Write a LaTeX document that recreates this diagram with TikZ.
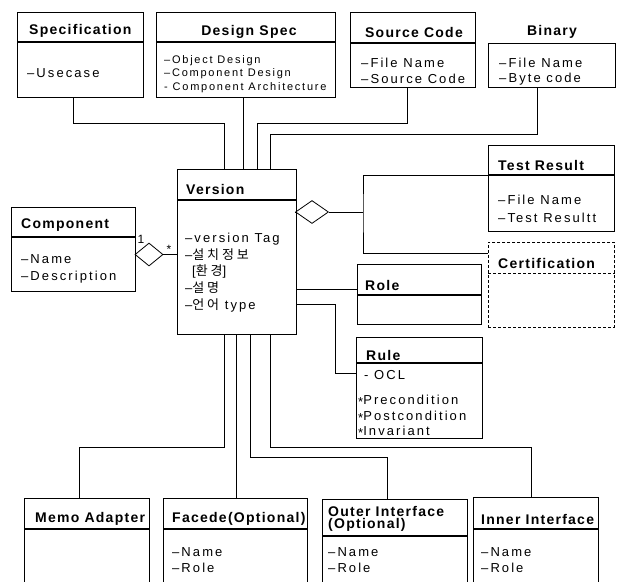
\documentclass[tikz,border=0pt]{standalone}
\usepackage{fontspec}
\setmainfont{Liberation Sans}
\newfontfamily\bodyf{Liberation Sans}[LetterSpace=16]
\newfontfamily\titlef{Liberation Sans}[LetterSpace=9]
\newfontfamily\kr{Noto Sans CJK KR}[LetterSpace=22]
\usetikzlibrary{shapes.geometric}
\tikzset{
  box/.style={draw, line width=0.8pt, inner sep=0pt, anchor=north west},
  hdr/.style={line width=1.3pt},
  conn/.style={line width=0.8pt},
  ttl/.style={font=\titlef\bfseries\fontsize{14}{16}\selectfont, inner sep=0pt, anchor=west},
  txt/.style={font=\bodyf\fontsize{13}{16}\selectfont, inner sep=0pt, anchor=west},
  stxt/.style={font=\bodyf\fontsize{11}{13}\selectfont, inner sep=0pt, anchor=west},
  agg/.style={draw, diamond, line width=0.8pt, inner sep=0pt, aspect=1},
}
\begin{document}
\begin{tikzpicture}[x=1pt,y=-1pt]
\useasboundingbox (0,0) rectangle (617,581);
\clip (0,0) rectangle (617,581);
\fill[white] (0,0) rectangle (617,581);

% ---------- top row ----------
\node[box, minimum width=126pt, minimum height=85pt] (spec) at (17,12) {};
\draw[hdr] (spec.west |- 0,42) -- (spec.east |- 0,42);
\node[ttl] (specT) at (29,31) {Specification};
\node[txt] (specA) at (27,73) {–Usecase};

\node[box, minimum width=179pt, minimum height=85pt] (design) at (156,12) {};
\draw[hdr] (design.west |- 0,42) -- (design.east |- 0,42);
\node[ttl, anchor=center] (designT) at (249,32) {Design Spec};
\node[stxt] (designA) at (164,61) {–Object Design};
\node[stxt] (designB) at (164,74) {–Component Design};
\node[stxt] (designC) at (164,88) {- Component Architecture};

\node[box, minimum width=125pt, minimum height=75pt] (source) at (350,12) {};
\draw[hdr] (source.west |- 0,43) -- (source.east |- 0,43);
\node[ttl, anchor=center] (sourceT) at (414,32) {Source Code};
\node[txt] (sourceA) at (361,63) {–File Name};
\node[txt] (sourceB) at (361,79) {–Source Code};

\node[box, minimum width=127pt, minimum height=44pt] (binary) at (488,43) {};
\node[ttl, anchor=center] (binaryT) at (552,32) {Binary};
\node[txt] (binaryA) at (499,63) {–File Name};
\node[txt] (binaryB) at (499,79) {–Byte code};

% ---------- Version ----------
\node[box, minimum width=119pt, minimum height=165pt] (version) at (177,169) {};
\draw[hdr] (version.west |- 0,200) -- (version.east |- 0,200);
\node[ttl] (versionT) at (186,189) {Version};
\node[txt] (versionA) at (185,239) {–version Tag};
\node[txt] (versionB) at (185,255) {–{\kr 설치정보}};
\node[txt] (versionC) at (192,271) {[{\kr 환경}]};
\node[txt] (versionD) at (185,288) {–{\kr 설명}};
\node[txt] (versionE) at (185,305) {–{\kr 언어} type};

% ---------- Component ----------
\node[box, minimum width=124pt, minimum height=84pt] (comp) at (11,207) {};
\draw[hdr] (comp.west |- 0,237) -- (comp.east |- 0,237);
\node[ttl] (compT) at (21,225) {Component};
\node[txt] (compA) at (21,259) {–Name};
\node[txt] (compB) at (21,277) {–Description};

% ---------- right side ----------
\node[box, minimum width=126pt, minimum height=86pt] (tr) at (488,145) {};
\draw[hdr] (tr.west |- 0,175) -- (tr.east |- 0,175);
\node[ttl] (trT) at (498,165) {Test Result};
\node[txt] (trA) at (498,200) {–File Name};
\node[txt] (trB) at (498,218) {–Test Resultt};

\node[box, dash pattern=on 3pt off 2pt, minimum width=126pt, minimum height=85pt] (cert) at (488,242) {};
\draw[line width=0.8pt, dash pattern=on 3pt off 2pt] (cert.west |- 0,273) -- (cert.east |- 0,273);
\node[ttl] (certT) at (498,263) {Certification};

\node[box, minimum width=124pt, minimum height=60pt] (role) at (357,264) {};
\draw[hdr] (role.west |- 0,295) -- (role.east |- 0,295);
\node[ttl] (roleT) at (365,285) {Role};

\node[box, minimum width=126pt, minimum height=101pt] (rule) at (356,337) {};
\draw[hdr] (rule.west |- 0,363) -- (rule.east |- 0,363);
\node[ttl] (ruleT) at (366,355) {Rule};
\node[txt] (ruleA) at (364,375) {- OCL};
\node[txt] (ruleB) at (358,401) {\raisebox{-0.35ex}{*}Precondition};
\node[txt] (ruleC) at (358,417) {\raisebox{-0.35ex}{*}Postcondition};
\node[txt] (ruleD) at (358,432) {\raisebox{-0.35ex}{*}Invariant};

% ---------- bottom row ----------
\node[box, minimum width=125pt, minimum height=100pt] (memo) at (24,498) {};
\draw[hdr] (memo.west |- 0,529) -- (memo.east |- 0,529);
\node[ttl] (memoT) at (35,519) {Memo Adapter};

\node[box, minimum width=144pt, minimum height=100pt] (facede) at (163,498) {};
\draw[hdr] (facede.west |- 0,529) -- (facede.east |- 0,529);
\node[ttl] (facedeT) at (172,519) {Facede(Optional)};
\node[txt] (facedeA) at (172,552) {–Name};
\node[txt] (facedeB) at (172,568) {–Role};

\node[box, minimum width=145pt, minimum height=100pt] (outer) at (322,499) {};
\draw[hdr] (outer.west |- 0,536) -- (outer.east |- 0,536);
\node[ttl] (outerT) at (328,511) {Outer Interface};
\node[ttl] (outerT2) at (328,525) {(Optional)};
\node[txt] (outerA) at (328,552) {–Name};
\node[txt] (outerB) at (328,568) {–Role};

\node[box, minimum width=125pt, minimum height=100pt] (inner) at (473,497) {};
\draw[hdr] (inner.west |- 0,529) -- (inner.east |- 0,529);
\node[ttl] (innerT) at (481,519) {Inner Interface};
\node[txt] (innerA) at (481,552) {–Name};
\node[txt] (innerB) at (481,568) {–Role};

% ---------- diamonds ----------
\node[agg, minimum width=28pt, minimum height=23pt] (dl) at (149,254.5) {};
\node[agg, minimum width=33pt, minimum height=23pt] (dr) at (312,212) {};
\node[inner sep=0pt, font=\fontsize{12}{12}\selectfont] (one) at (141,239) {1};
\node[inner sep=0pt, font=\fontsize{12}{12}\selectfont] (star) at (169,249) {*};

% ---------- connectors ----------
\draw[conn] (73,0 |- spec.south) |- (224,123) -- (224,0 |- version.north);
\draw[conn] (243,0 |- design.south) -- (243,0 |- version.north);
\draw[conn] (407,0 |- source.south) |- (257,123) -- (257,0 |- version.north);
\draw[conn] (537,0 |- binary.south) |- (270,134) -- (270,0 |- version.north);

\draw[conn] (dl.west) -- (comp.east |- dl.west);
\draw[conn] (dl.east) -- (version.west |- dl.east);

\draw[conn] (version.east |- dr.west) -- (dr.west);
\coordinate (jr) at (363,212);
\draw[conn] (dr.east) -- (jr);
\draw[conn] (tr.west |- 0,175) -| (jr) |- (cert.west |- 0,253);

\draw[conn] (version.east |- 0,289) -- (role.west |- 0,289);
\draw[conn] (version.east |- 0,304) -| (335,373) -- (rule.west |- 0,373);

\draw[conn] (224,0 |- version.south) |- (79,447) -- (79,0 |- memo.north);
\draw[conn] (236,0 |- version.south) -- (236,0 |- facede.north);
\draw[conn] (250,0 |- version.south) |- (387,457) -- (387,0 |- outer.north);
\draw[conn] (270,0 |- version.south) |- (531,447) -- (531,0 |- inner.north);
\end{tikzpicture}
\end{document}
